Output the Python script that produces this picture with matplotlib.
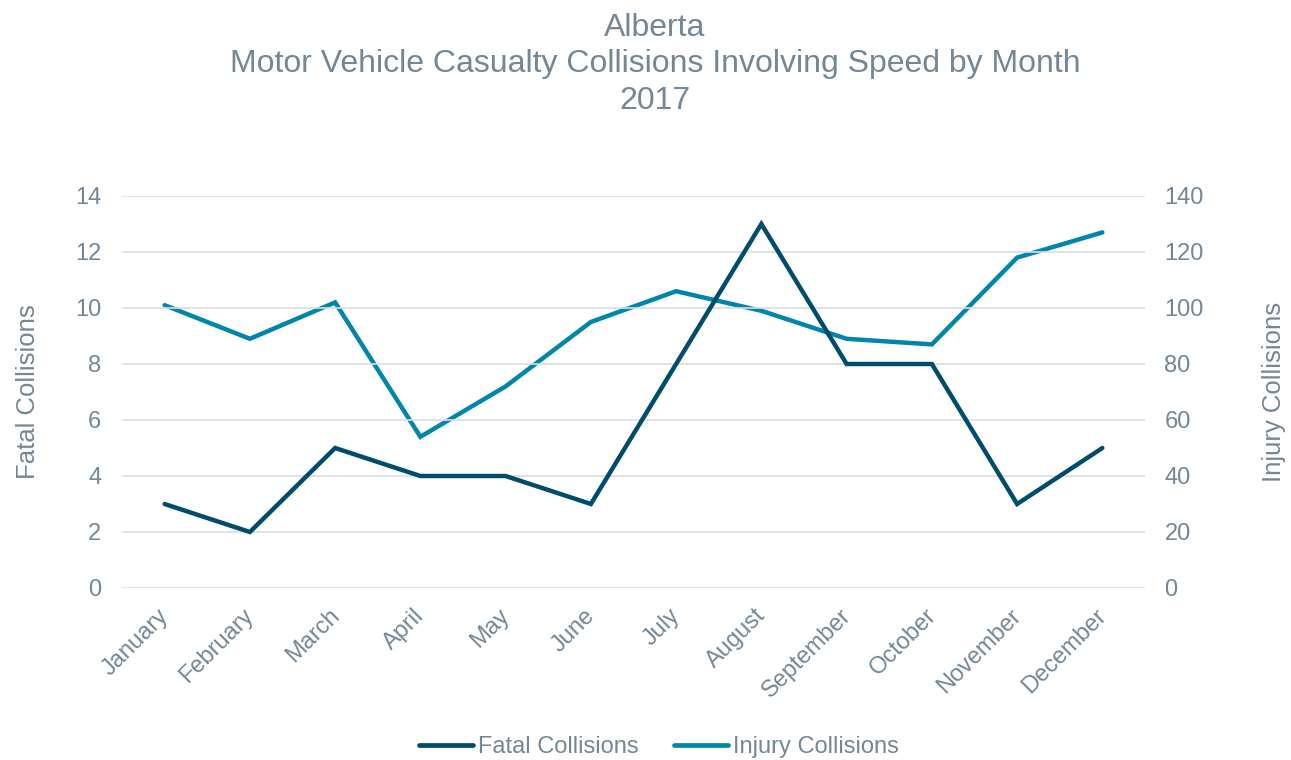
import matplotlib
matplotlib.use("Agg")
import matplotlib.pyplot as plt
import matplotlib.transforms as mtransforms
from matplotlib.lines import Line2D

plt.rcParams['font.family'] = ['Liberation Sans', 'DejaVu Sans']

months = ["January", "February", "March", "April", "May", "June", "July",
          "August", "September", "October", "November", "December"]
fatal = [3, 2, 5, 4, 4, 3, 8, 13, 8, 8, 3, 5]
injury = [101, 89, 102, 54, 72, 95, 106, 99, 89, 87, 118, 127]

title_lines = ["Alberta", "Motor Vehicle Casualty Collisions Involving Speed by Month", "2017"]
left_label = "Fatal Collisions"
right_label = "Injury Collisions"

TEXT = "#738796"
GRID = "#D9DEE3"
C_FATAL = "#004C6C"
C_INJ = "#0085AB"

fig = plt.figure(figsize=(12.91, 7.60), dpi=100)
ax = fig.add_axes([122/1291, 1-588/760, (1145-122)/1291, (588-196)/760])
ax2 = ax.twinx()

x = list(range(len(months)))
ax.plot(x, fatal, color=C_FATAL, lw=3.2, solid_capstyle='round', solid_joinstyle='miter', zorder=3)
ax2.plot(x, injury, color=C_INJ, lw=3.2, solid_capstyle='round', solid_joinstyle='miter', zorder=3)

ax.set_xlim(-0.5, len(months)-0.5)
ax.set_ylim(0, 14)
ax2.set_ylim(0, 140)
ax.set_yticks(range(0, 15, 2))
ax2.set_yticks(range(0, 141, 20))
ax.grid(axis='y', color=GRID, lw=1.2)
ax.set_axisbelow(True)
ax.set_zorder(ax2.get_zorder()+1)
ax.patch.set_visible(False)

for a in (ax, ax2):
    for s in a.spines.values():
        s.set_visible(False)
    a.tick_params(length=0, colors=TEXT, labelsize=17)

ax.tick_params(axis='y', pad=15)
ax2.tick_params(axis='y', pad=14)
ax.set_xticks(x)
ax.set_xticklabels(months, rotation=45, ha='right', rotation_mode='anchor')
ax.tick_params(axis='x', pad=12)
offset = mtransforms.ScaledTranslation(-7/100, 0, fig.dpi_scale_trans)
for lbl in ax.get_xticklabels():
    lbl.set_transform(lbl.get_transform() + offset)

ax.set_ylabel(left_label, color=TEXT, fontsize=18.5, labelpad=25)
ax2.set_ylabel(right_label, color=TEXT, fontsize=18.5, labelpad=42)

cx = 655/1291
fig.text(cx, 1-28/760, title_lines[0], ha='center', va='center', color=TEXT, fontsize=23)
fig.text(cx, 1-64/760, title_lines[1], ha='center', va='center', color=TEXT, fontsize=23)
fig.text(cx, 1-101/760, title_lines[2], ha='center', va='center', color=TEXT, fontsize=23)

handles = [Line2D([], [], color=C_FATAL, lw=3.4, solid_capstyle='round'),
           Line2D([], [], color=C_INJ, lw=3.4, solid_capstyle='round')]
fig.legend(handles, [left_label, right_label], loc='center', bbox_to_anchor=(659/1291, 1-747/760),
           ncol=2, frameon=False, fontsize=17, labelcolor=TEXT, handlelength=2.3,
           handletextpad=0.2, columnspacing=1.5)

fig.savefig("out.png", dpi=100)
